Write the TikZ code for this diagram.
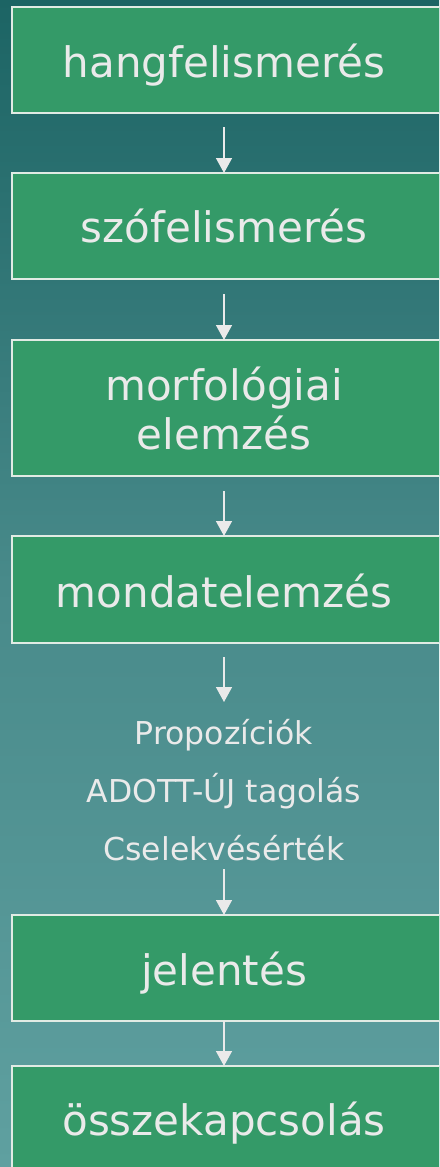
\documentclass[tikz,border=0pt]{standalone}
\usepackage{fontspec}
\setmainfont{DejaVu Sans}
\usetikzlibrary{arrows.meta}
\definecolor{bgtop}{RGB}{28,100,100}
\definecolor{bgmid}{RGB}{72,138,138}
\definecolor{bgbot}{RGB}{95,160,160}
\definecolor{boxfill}{RGB}{52,154,104}
\definecolor{boxline}{RGB}{225,235,228}
\definecolor{txt}{RGB}{234,234,234}
\tikzset{
  stage/.style={draw=boxline, line width=1.5pt, fill=boxfill},
  stagetext/.style={text=txt, font=\fontsize{42}{49}\selectfont, anchor=base, inner sep=0pt},
  smalltext/.style={text=txt, font=\fontsize{31.5}{36}\selectfont, anchor=base, inner sep=0pt},
  flow/.style={draw=txt, line width=1.5pt, -{Triangle[width=16pt,length=15pt]}}
}
\begin{document}
\begin{tikzpicture}[x=1pt,y=-1pt]
\useasboundingbox (0,0) rectangle (439,1167);
\shade[top color=bgtop, bottom color=bgbot, middle color=bgmid] (0,0) rectangle (439,1167);
\begin{scope}
\clip (0,0) rectangle (439,1167);
\draw[stage] (12,7) rectangle (450,113);
\draw[stage] (12,173) rectangle (450,279);
\draw[stage] (12,340) rectangle (450,476);
\draw[stage] (12,536) rectangle (450,643);
\draw[stage] (12,915) rectangle (450,1021);
\draw[stage] (12,1066) rectangle (450,1190);
\end{scope}
\node[stagetext] (s1) at (224,77) {hangfelismerés};
\node[stagetext] (s2) at (224,242) {szófelismerés};
\node[stagetext] (s3a) at (224,400) {morfológiai};
\node[stagetext] (s3b) at (224,449) {elemzés};
\node[stagetext] (s4) at (224,607) {mondatelemzés};
\node[smalltext] (p1) at (224,744) {Propozíciók};
\node[smalltext] (p2) at (224,802) {ADOTT-ÚJ tagolás};
\node[smalltext] (p3) at (224,860) {Cselekvésérték};
\node[stagetext] (s5) at (224,985) {jelentés};
\node[stagetext] (s6) at (224,1135) {összekapcsolás};
\coordinate (a1s) at (224,127); \coordinate (a1e) at (224,173);
\coordinate (a2s) at (224,294); \coordinate (a2e) at (224,340);
\coordinate (a3s) at (224,491); \coordinate (a3e) at (224,536);
\coordinate (a4s) at (224,657); \coordinate (a4e) at (224,702);
\coordinate (a5s) at (224,869); \coordinate (a5e) at (224,915);
\coordinate (a6s) at (224,1021); \coordinate (a6e) at (224,1066);
\draw[flow] (a1s) -- (a1e);
\draw[flow] (a2s) -- (a2e);
\draw[flow] (a3s) -- (a3e);
\draw[flow] (a4s) -- (a4e);
\draw[flow] (a5s) -- (a5e);
\draw[flow] (a6s) -- (a6e);
\end{tikzpicture}
\end{document}
